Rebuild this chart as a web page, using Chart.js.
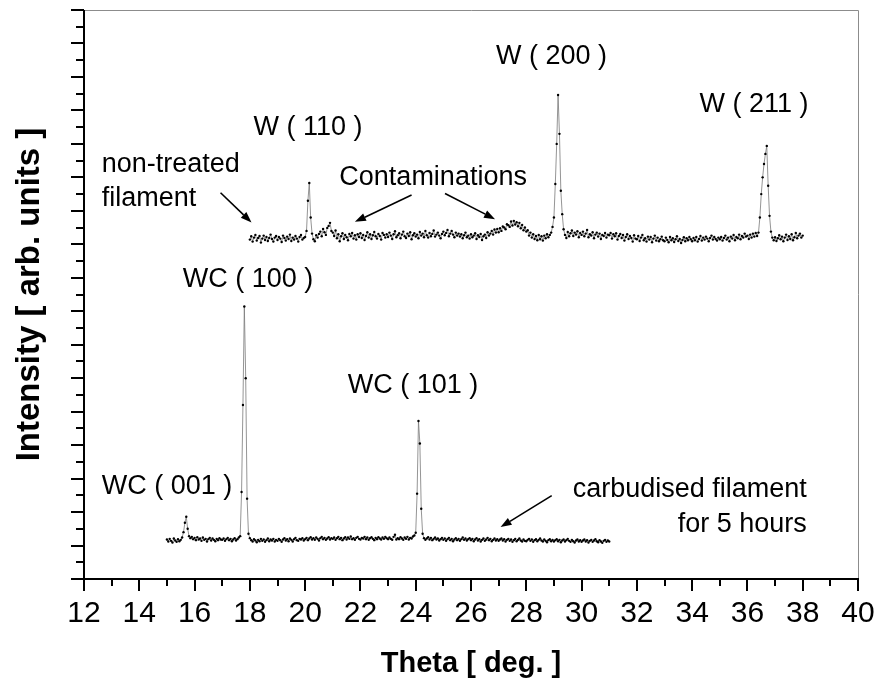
<!DOCTYPE html>
<html>
<head>
<meta charset="utf-8">
<script src="https://cdn.jsdelivr.net/npm/chart.js@4.4.1/dist/chart.umd.min.js"></script>
<style>
  html, body { margin: 0; padding: 0; background: #fff; }
  canvas { display: block; }
</style>
</head>
<body>
<canvas id="xrdChart" width="878" height="684"></canvas>
<script>
// scan settings (theta in deg.)
var thetaStep = 0.05;
var topStart = 18.0;     // non-treated filament
var bottomStart = 15.0;  // carbudised filament

// intensity [arb. units], non-treated filament, 18.00 .. 38.00
var topIntensity = [
  1014,1024,1008,1020,1028,1011,1019,1025,1005,1017,1026,1013,1022,1010,1019,1029,1016,1008,1020,1025,
  1013,1022,1017,1007,1026,1019,1011,1023,1016,1029,1010,1020,1014,1025,1017,1008,1022,1028,1014,1019,
  1022,1040,1130,1183,1080,1032,1015,1009,1027,1020,1031,1038,1024,1046,1036,1028,1049,1055,1064,1040,
  1035,1025,1041,1018,1030,1009,1024,1033,1016,1028,1021,1012,1031,1024,1034,1017,1027,1014,1030,1022,
  1033,1019,1028,1013,1025,1036,1020,1030,1016,1027,1037,1024,1017,1031,1025,1014,1034,1028,1020,1030,
  1022,1035,1026,1016,1030,1039,1021,1027,1033,1018,1029,1038,1024,1019,1032,1025,1036,1015,1027,1033,
  1023,1029,1018,1037,1026,1032,1021,1040,1027,1020,1034,1024,1031,1041,1023,1029,1035,1026,1018,1031,
  1038,1027,1034,1043,1024,1032,1040,1029,1021,1035,1026,1032,1023,1030,1018,1027,1035,1021,1026,1017,
  1030,1021,1026,1033,1016,1027,1022,1031,1013,1024,1029,1019,1036,1026,1032,1040,1029,1044,1035,1046,
  1036,1048,1040,1053,1050,1045,1060,1057,1052,1068,1056,1070,1059,1066,1054,1064,1048,1058,1042,1050,
  1038,1042,1026,1035,1020,1030,1016,1025,1012,1028,1015,1024,1011,1026,1018,1030,1021,1028,1035,1052,
  1080,1180,1300,1446,1330,1160,1090,1045,1028,1019,1037,1024,1033,1041,1025,1035,1029,1039,1021,1034,
  1028,1038,1024,1032,1043,1021,1030,1026,1036,1018,1029,1035,1023,1032,1016,1028,1025,1034,1020,1029,
  1027,1034,1017,1030,1024,1033,1014,1025,1031,1019,1028,1011,1022,1030,1016,1025,1019,1008,1027,1017,
  1015,1025,1010,1020,1028,1012,1018,1008,1023,1014,1022,1006,1017,1026,1011,1020,1009,1015,1023,1012,
  1009,1020,1013,1006,1022,1012,1018,1007,1015,1024,1010,1016,1004,1013,1021,1009,1018,1012,1022,1015,
  1009,1019,1012,1022,1008,1016,1025,1011,1020,1014,1023,1017,1009,1019,1026,1014,1022,1016,1011,1020,
  1015,1022,1011,1019,1026,1014,1020,1009,1023,1017,1028,1012,1022,1018,1029,1015,1025,1020,1032,1023,
  1026,1016,1029,1020,1032,1023,1034,1025,1035,1080,1150,1200,1240,1270,1294,1175,1085,1038,1020,1012,
  1021,1010,1018,1027,1015,1023,1009,1020,1029,1013,1024,1016,1030,1012,1021,1034,1018,1026,1032,1020,
  1026
];

// intensity [arb. units], carbudised filament (5 h), 15.00 .. 31.00
var bottomIntensity = [
  118,112,120,114,109,121,115,111,119,113,117,124,140,168,186,150,128,122,126,119,
  123,116,125,118,121,114,124,117,120,112,119,123,115,121,117,113,120,116,122,118,
  117,121,114,119,123,116,120,113,118,122,115,119,124,128,260,520,814,600,240,135,
  122,116,112,119,115,110,117,113,120,114,118,111,116,121,113,118,115,120,112,117,
  114,120,116,111,118,122,115,119,113,121,117,112,119,123,116,114,120,118,122,115,
  119,123,116,121,125,118,122,117,124,120,115,122,126,119,123,117,121,125,118,122,
  120,124,117,122,126,119,123,116,121,125,118,124,120,127,119,122,117,123,126,120,
  118,123,121,126,119,124,117,122,125,120,116,123,119,125,121,118,124,120,126,122,
  119,124,120,117,126,132,118,122,119,125,121,117,124,120,126,118,123,121,127,130,
  138,255,472,405,210,135,122,117,121,125,118,123,116,120,124,118,121,115,119,123,
  117,121,114,119,123,116,120,113,118,122,116,120,114,119,124,117,121,115,119,122,
  116,120,113,118,122,115,119,112,117,121,114,118,123,116,120,113,117,121,115,119,
  114,118,121,115,119,112,117,120,114,118,111,116,120,113,117,121,115,112,118,114,
  113,117,120,114,118,111,116,119,113,117,121,115,112,118,114,110,116,119,113,117,
  112,116,119,113,117,110,115,118,112,116,120,114,111,117,113,109,115,118,112,116,
  111,115,118,112,116,109,114,117,111,115,119,113,110,116,112,108,114,117,111,115,
  112
];

// axis ranges
var xMin = 12, xMax = 40, yMin = 0, yMax = 1700;

// peak labels and notes (theta, intensity)
var noteText = ['W ( 110 )', 'W ( 200 )', 'W ( 211 )', 'non-treated', 'filament', 'Contaminations',
  'WC ( 100 )', 'WC ( 001 )', 'WC ( 101 )', 'carbudised filament', 'for 5 hours'];
var noteTheta = [20.10, 28.91, 36.24, 12.64, 12.64, 24.63, 17.93, 15.00, 23.90, 38.15, 38.15];
var noteInt = [1349, 1560, 1419, 1237, 1138, 1198, 896, 275, 577, 266, 164];
var noteAlign = ['center', 'center', 'center', 'left', 'left', 'center', 'center', 'center', 'center', 'right', 'right'];

// arrows: tail -> head (theta, intensity)
var arrowFrom = [[16.94, 1154], [23.85, 1147], [25.06, 1152], [28.92, 249]];
var arrowTo = [[18.06, 1065], [21.80, 1067], [26.87, 1075], [27.07, 155]];

function toPoints(start, values) {
  var pts = [];
  for (var i = 0; i < values.length; i++) {
    pts.push({ x: +(start + i * thetaStep).toFixed(2), y: values[i] });
  }
  return pts;
}

var axisDecor = {
  id: 'axisDecor',
  afterDraw: function (chart) {
    var ctx = chart.ctx, a = chart.chartArea;
    var xs = chart.scales.x, ys = chart.scales.y;
    ctx.save();
    // light frame top / right
    ctx.strokeStyle = '#8c8c8c';
    ctx.lineWidth = 1;
    ctx.beginPath();
    ctx.moveTo(a.left, a.top + 0.5);
    ctx.lineTo(a.right + 0.5, a.top + 0.5);
    ctx.lineTo(a.right + 0.5, a.bottom);
    ctx.stroke();
    // main axes
    ctx.strokeStyle = '#000';
    ctx.lineWidth = 2;
    ctx.beginPath();
    ctx.moveTo(a.left, a.top);
    ctx.lineTo(a.left, a.bottom);
    ctx.lineTo(a.right + 1, a.bottom);
    ctx.stroke();
    // x ticks
    ctx.beginPath();
    for (var v = xMin; v <= xMax; v++) {
      var px = Math.round(xs.getPixelForValue(v));
      var len = (v % 2 === 0) ? 12 : 7;
      ctx.moveTo(px, a.bottom);
      ctx.lineTo(px, a.bottom + len);
    }
    // y ticks
    for (var w = yMin; w <= yMax; w += 50) {
      var py = Math.round(ys.getPixelForValue(w));
      var l2 = (w % 100 === 0) ? 13 : 8;
      ctx.moveTo(a.left, py);
      ctx.lineTo(a.left - l2, py);
    }
    ctx.stroke();

    // notes
    ctx.fillStyle = '#000';
    ctx.font = '27px "Liberation Sans", Arial, sans-serif';
    ctx.textBaseline = 'middle';
    for (var i = 0; i < noteText.length; i++) {
      ctx.textAlign = noteAlign[i];
      ctx.fillText(noteText[i], xs.getPixelForValue(noteTheta[i]), ys.getPixelForValue(noteInt[i]));
    }

    // arrows
    ctx.lineWidth = 1.6;
    for (var k = 0; k < arrowFrom.length; k++) {
      var x1 = xs.getPixelForValue(arrowFrom[k][0]), y1 = ys.getPixelForValue(arrowFrom[k][1]);
      var x2 = xs.getPixelForValue(arrowTo[k][0]), y2 = ys.getPixelForValue(arrowTo[k][1]);
      var ang = Math.atan2(y2 - y1, x2 - x1);
      var hl = 11, hw = 4;
      var bx = x2 - hl * Math.cos(ang), by = y2 - hl * Math.sin(ang);
      ctx.beginPath();
      ctx.moveTo(x1, y1);
      ctx.lineTo(bx, by);
      ctx.stroke();
      ctx.beginPath();
      ctx.moveTo(x2, y2);
      ctx.lineTo(bx + hw * Math.sin(ang), by - hw * Math.cos(ang));
      ctx.lineTo(bx - hw * Math.sin(ang), by + hw * Math.cos(ang));
      ctx.closePath();
      ctx.fill();
    }
    ctx.restore();
  }
};

var ctx = document.getElementById('xrdChart').getContext('2d');
var chart = new Chart(ctx, {
  type: 'line',
  data: {
    datasets: [{
      label: 'non-treated filament',
      data: toPoints(topStart, topIntensity),
      borderColor: '#7a7a7a',
      borderWidth: 0.8,
      pointRadius: 1.2,
      pointBackgroundColor: '#000',
      pointBorderWidth: 0,
      tension: 0
    }, {
      label: 'carbudised filament for 5 hours',
      data: toPoints(bottomStart, bottomIntensity),
      borderColor: '#7a7a7a',
      borderWidth: 0.8,
      pointRadius: 1.2,
      pointBackgroundColor: '#000',
      pointBorderWidth: 0,
      tension: 0
    }]
  },
  options: {
    responsive: false,
    animation: false,
    devicePixelRatio: 1,
    layout: { padding: { left: 0, right: 20, top: 10, bottom: 0 } },
    plugins: {
      legend: { display: false },
      tooltip: { enabled: false }
    },
    scales: {
      x: {
        type: 'linear',
        min: xMin,
        max: xMax,
        grid: { display: false, drawTicks: false },
        border: { display: false },
        ticks: {
          stepSize: 2,
          padding: 17,
          color: '#000',
          font: { family: '"Liberation Sans", Arial, sans-serif', size: 30 },
          maxRotation: 0
        },
        title: {
          display: true,
          text: 'Theta [ deg. ]',
          color: '#000',
          font: { family: '"Liberation Sans", Arial, sans-serif', size: 29, weight: 'bold' },
          padding: { top: 0, bottom: 3 }
        },
        afterFit: function (s) {
          s.height = 105;
          s.paddingLeft = 0;
          s.paddingRight = 0;
        }
      },
      y: {
        type: 'linear',
        min: yMin,
        max: yMax,
        grid: { display: false, drawTicks: false },
        border: { display: false },
        ticks: { display: false },
        title: {
          display: true,
          text: 'Intensity [ arb. units ]',
          color: '#000',
          font: { family: '"Liberation Sans", Arial, sans-serif', size: 33, weight: 'bold' },
          padding: { top: 10, bottom: 0 }
        },
        afterFit: function (s) { s.width = 84; }
      }
    }
  },
  plugins: [axisDecor]
});
</script>
</body>
</html>
